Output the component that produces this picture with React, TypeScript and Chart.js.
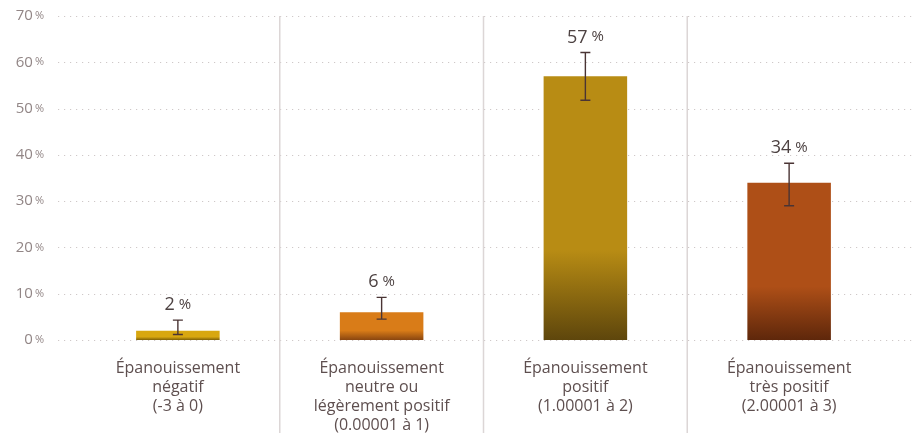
import React, { useEffect, useRef } from "react";
import { Chart, registerables } from "chart.js";

Chart.register(...registerables);

const categories: string[][] = [
  ["Épanouissement", "négatif", "(-3 à 0)"],
  ["Épanouissement", "neutre ou", "légèrement positif", "(0.00001 à 1)"],
  ["Épanouissement", "positif", "(1.00001 à 2)"],
  ["Épanouissement", "très positif", "(2.00001 à 3)"],
];
const values = [2, 6, 57, 34];
const errLow = [1.2, 4.5, 51.8, 29.0];
const errHigh = [4.3, 9.2, 62.1, 38.2];
const topColors = ["#D8A710", "#D97C18", "#B88C14", "#AE4F17"];
const bottomColors = ["#7E6008", "#8A4610", "#5E460C", "#5E270B"];
const yMax = 70;
const yStep = 10;

const FONT = "'Open Sans', sans-serif";

const decorPlugin = {
  id: "decor",
  beforeDatasetsDraw(chart: any) {
    const { ctx, chartArea, scales } = chart;
    const y = scales.y;
    const x = scales.x;
    ctx.save();
    ctx.strokeStyle = "#cfc8c8";
    ctx.lineWidth = 1;
    ctx.setLineDash([1.2, 4.8]);
    y.ticks.forEach((t: any) => {
      const py = Math.round(y.getPixelForValue(t.value)) + 0.5;
      ctx.beginPath();
      ctx.moveTo(chartArea.left - 18, py);
      ctx.lineTo(chart.width, py);
      ctx.stroke();
    });
    ctx.setLineDash([]);
    ctx.strokeStyle = "#dcd6d6";
    ctx.lineWidth = 1.5;
    for (let i = 0; i < categories.length - 1; i++) {
      const px = (x.getPixelForValue(i) + x.getPixelForValue(i + 1)) / 2;
      ctx.beginPath();
      ctx.moveTo(px, chartArea.top);
      ctx.lineTo(px, chart.height);
      ctx.stroke();
    }
    ctx.restore();
  },
  afterDatasetsDraw(chart: any) {
    const { ctx, scales } = chart;
    const y = scales.y;
    const meta = chart.getDatasetMeta(0);
    ctx.save();
    meta.data.forEach((bar: any, i: number) => {
      const px = bar.x;
      const yHi = y.getPixelForValue(errHigh[i]);
      const yLo = y.getPixelForValue(errLow[i]);
      ctx.strokeStyle = "#4a3434";
      ctx.lineWidth = 1.4;
      ctx.beginPath();
      ctx.moveTo(px, yHi);
      ctx.lineTo(px, yLo);
      ctx.moveTo(px - 5, yHi);
      ctx.lineTo(px + 5, yHi);
      ctx.moveTo(px - 5, yLo);
      ctx.lineTo(px + 5, yLo);
      ctx.stroke();
      const num = String(values[i]);
      ctx.fillStyle = "#4d4242";
      ctx.textBaseline = "alphabetic";
      ctx.textAlign = "left";
      ctx.font = `18px ${FONT}`;
      const wNum = ctx.measureText(num).width;
      ctx.font = `15px ${FONT}`;
      const wPct = ctx.measureText("%").width;
      const gap = 4;
      const total = wNum + gap + wPct;
      const sx = px - total / 2;
      const by = yHi - 10;
      ctx.font = `18px ${FONT}`;
      ctx.fillText(num, sx, by);
      ctx.font = `15px ${FONT}`;
      ctx.fillText("%", sx + wNum + gap, by - 1.5);
    });
    ctx.restore();
  },
  afterDraw(chart: any) {
    const { ctx, chartArea, scales } = chart;
    const y = scales.y;
    ctx.save();
    ctx.fillStyle = "#928686";
    ctx.textBaseline = "middle";
    ctx.textAlign = "left";
    y.ticks.forEach((t: any) => {
      const py = y.getPixelForValue(t.value);
      const num = String(t.value);
      ctx.font = `15px ${FONT}`;
      const wNum = ctx.measureText(num).width;
      ctx.font = `11px ${FONT}`;
      const wPct = ctx.measureText("%").width;
      const right = chartArea.left - 32;
      const sx = right - wPct - 2 - wNum;
      ctx.font = `15px ${FONT}`;
      ctx.fillText(num, sx, py);
      ctx.font = `11px ${FONT}`;
      ctx.fillText("%", sx + wNum + 2, py);
    });
    ctx.restore();
  },
};

export default function App() {
  const ref = useRef<HTMLCanvasElement | null>(null);
  useEffect(() => {
    document.body.style.margin = "0";
    const canvas = ref.current;
    if (!canvas) return;
    const chart = new Chart(canvas, {
      type: "bar",
      data: {
        labels: categories,
        datasets: [
          {
            data: values,
            backgroundColor: (c: any) => {
              const chart = c.chart;
              const i = c.dataIndex;
              if (!chart.chartArea || i === undefined) return topColors[i ?? 0];
              const ys = chart.scales.y;
              const top = ys.getPixelForValue(values[i]);
              const base = ys.getPixelForValue(0);
              if (!isFinite(top) || !isFinite(base) || base - top < 1) return topColors[i];
              const g = chart.ctx.createLinearGradient(0, top, 0, base);
              g.addColorStop(0, topColors[i]);
              g.addColorStop(0.66, topColors[i]);
              g.addColorStop(1, bottomColors[i]);
              return g;
            },
            borderWidth: 0,
            barPercentage: 0.41,
            categoryPercentage: 1,
          },
        ],
      },
      options: {
        responsive: false,
        animation: false,
        layout: { padding: { top: 16, right: 22, left: 0, bottom: 0 } },
        plugins: {
          legend: { display: false },
          tooltip: { enabled: false },
        },
        scales: {
          x: {
            grid: { display: false, drawTicks: false },
            border: { display: false },
            ticks: {
              color: "#5e4f4f",
              font: { family: FONT, size: 16, lineHeight: 1.19 },
              padding: 19,
              maxRotation: 0,
              autoSkip: false,
            },
            afterFit: (s: any) => {
              s.height = 93;
            },
          },
          y: {
            min: 0,
            max: yMax,
            ticks: { stepSize: yStep, display: false },
            grid: { display: false, drawTicks: false },
            border: { display: false },
            afterFit: (s: any) => {
              s.width = 76;
            },
          },
        },
      },
      plugins: [decorPlugin],
    });
    return () => chart.destroy();
  }, []);
  return (
    <div style={{ width: 913, height: 433 }}>
      <canvas ref={ref} width={913} height={433} />
    </div>
  );
}
